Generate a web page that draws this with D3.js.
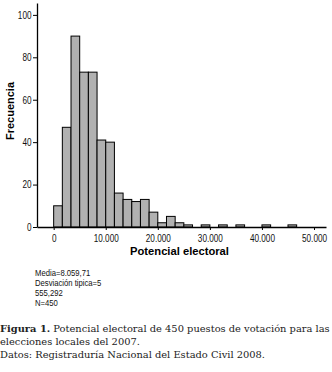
<!DOCTYPE html>
<html>
<head>
<meta charset="utf-8">
<script src="https://cdn.jsdelivr.net/npm/d3@7"></script>
<style>
  html, body { margin: 0; padding: 0; background: #fff; }
  svg { display: block; }
</style>
</head>
<body>
<div id="chart"></div>
<script>
// histogram counts, one per bin of width binWidth starting at 0
const binWidth = 50000 / 30;
const counts = [10, 47, 90, 73, 73, 41, 40, 16, 13, 12, 13, 7, 2, 5, 2, 1, 0, 1, 0, 1, 0, 1, 0, 0, 1, 0, 0, 1, 0, 0];
const xTicks = [0, 10000, 20000, 30000, 40000, 50000];
const yTicks = [0, 20, 40, 60, 80, 100];
const statsLines = ['Media=8.059,71', 'Desviación tipica=5', '555,292', 'N=450'];
const captionLines = [
  ['Figura 1.', ' Potencial electoral de 450 puestos de votación para las'],
  ['', 'elecciones locales del 2007.'],
  ['', 'Datos: Registraduría Nacional del Estado Civil 2008.']
];

const width = 332, height = 372;
const sans = '"Liberation Sans", Arial, sans-serif';
const squeeze = 0.78; // fake a narrow face

const es = d3.formatLocale({ decimal: ',', thousands: '.', grouping: [3], currency: ['', ''] });

let x = d3.scaleLinear()
  .domain([-3200, 52300])
  .range([37, 326]);

let y = d3.scaleLinear()
  .domain([0, 105.6])
  .range([227, 3]);

const svg = d3.select('#chart')
  .append('svg')
  .attr('width', width)
  .attr('height', height)
  .attr('viewBox', [0, 0, width, height].join(' '));

// bars
svg.append('g')
  .selectAll('rect')
  .data(counts.map((c, i) => ({ x0: i * binWidth, x1: (i + 1) * binWidth, count: c })).filter(d => d.count > 0))
  .join('rect')
  .attr('x', d => x(d.x0))
  .attr('y', d => y(d.count))
  .attr('width', d => x(d.x1) - x(d.x0))
  .attr('height', d => y(0) - y(d.count))
  .attr('fill', '#b1b1b1')
  .attr('stroke', '#000')
  .attr('stroke-width', 1);

let xAxis = g => g
  .attr('transform', `translate(0,${y(0)})`)
  .call(d3.axisBottom(x).tickValues(xTicks).tickFormat(es.format(',d')).tickSize(3).tickSizeOuter(0))
  .call(g => g.select('.domain').attr('stroke-width', 1.3))
  .call(g => g.selectAll('.tick text')
    .attr('font-family', sans)
    .attr('font-size', 10.5)
    .attr('dy', '0.85em')
    .attr('transform', `scale(${squeeze},1)`)
    .attr('fill', '#111'));

let yAxis = g => g
  .attr('transform', `translate(${x.range()[0]},0)`)
  .call(d3.axisLeft(y).tickValues(yTicks).tickSize(4).tickSizeOuter(0))
  .call(g => g.select('.domain').attr('stroke-width', 1.3))
  .call(g => g.selectAll('.tick text')
    .attr('font-family', sans)
    .attr('font-size', 10.5)
    .attr('x', -5.5 / squeeze)
    .attr('transform', `scale(${squeeze},1)`)
    .attr('fill', '#111'));

svg.append('g').call(xAxis);
svg.append('g').call(yAxis);

svg.append('text')
  .attr('x', 179.5)
  .attr('y', 255)
  .style('text-anchor', 'middle')
  .style('font-family', sans)
  .style('font-weight', 'bold')
  .style('font-size', '11.2px')
  .text('Potencial electoral');

svg.append('text')
  .attr('transform', 'rotate(-90)')
  .attr('x', -111)
  .attr('y', 14)
  .style('text-anchor', 'middle')
  .style('font-family', sans)
  .style('font-weight', 'bold')
  .style('font-size', '11px')
  .text('Frecuencia');

// summary stats
svg.append('g')
  .attr('transform', 'translate(35,0) scale(0.8,1)')
  .selectAll('text')
  .data(statsLines)
  .join('text')
  .attr('x', 0)
  .attr('y', (d, i) => 276 + i * 10)
  .style('font-family', sans)
  .style('font-size', '9.6px')
  .attr('fill', '#111')
  .text(d => d);

// caption
const cap = svg.append('g')
  .selectAll('text')
  .data(captionLines)
  .join('text')
  .attr('x', 0)
  .attr('y', (d, i) => 332 + i * 13)
  .style('font-family', '"DejaVu Serif", serif')
  .style('font-size', '9.9px')
  .attr('fill', '#222');

cap.append('tspan')
  .style('font-weight', 'bold')
  .text(d => d[0]);
cap.append('tspan')
  .text(d => d[1]);
</script>
</body>
</html>
